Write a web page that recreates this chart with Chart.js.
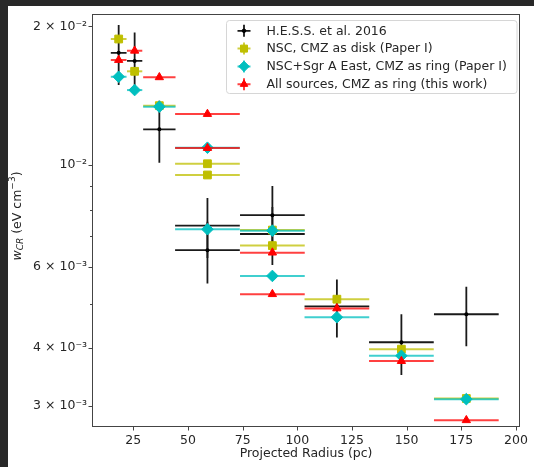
<!DOCTYPE html>
<html><head><meta charset="utf-8">
<script src="https://cdn.jsdelivr.net/npm/chart.js@4/dist/chart.umd.min.js"></script>
<style>html,body{margin:0;padding:0;background:#fff;}#wrap{width:534px;height:467px;position:relative;}canvas{display:block;}</style>
</head><body><div id="wrap"><canvas id="c" width="534" height="467"></canvas></div>
<script>
// ---- data ----
const radius    = [18.3, 25.6, 36.9, 58.9, 58.9, 88.6, 88.6, 118.1, 147.6, 177.3];
const radiusErr = [3.6, 3.5, 7.4, 14.8, 14.8, 14.8, 14.8, 14.8, 14.8, 14.8];
const hess      = [1.752e-2, 1.682e-2, 1.195e-2, 7.38e-3, 6.53e-3, 7.78e-3, 7.08e-3, 4.93e-3, 4.12e-3, 4.74e-3];
const hessErr   = [2.6e-3, 2.56e-3, 1.84e-3, 1.1e-3, 1.0e-3, 1.22e-3, 1.02e-3, 7.1e-4, 6.2e-4, 7.0e-4];
const nscDisk   = [1.877e-2, 1.597e-2, 1.345e-2, 1.006e-2, 9.51e-3, 7.22e-3, 6.68e-3, 5.11e-3, 3.98e-3, 3.11e-3];
const nscRing   = [1.554e-2, 1.454e-2, 1.338e-2, 1.09e-2, 7.25e-3, 7.20e-3, 5.74e-3, 4.67e-3, 3.85e-3, 3.10e-3];
const allRing   = [1.69e-2, 1.77e-2, 1.55e-2, 1.29e-2, 1.088e-2, 6.45e-3, 5.24e-3, 4.88e-3, 3.75e-3, 2.79e-3];
const seriesLabels = [
  'H.E.S.S. et al. 2016',
  'NSC, CMZ as disk (Paper I)',
  'NSC+Sgr A East, CMZ as ring (Paper I)',
  'All sources, CMZ as ring (this work)'
];
const xTicks = [25, 50, 75, 100, 125, 150, 175, 200];
const yTicks = [3e-3, 4e-3, 5e-3, 6e-3, 7e-3, 8e-3, 9e-3, 1e-2, 2e-2];
const yTickLabels = ['3 × 10⁻³', '4 × 10⁻³', '', '6 × 10⁻³', '', '', '', '10⁻²', '2 × 10⁻²'];
const xTitle = 'Projected Radius (pc)';

// ---- build points ----
function pts(vals, yErr) {
  return vals.map((v, i) => ({x: radius[i], y: v, xErr: radiusErr[i], yErr: yErr ? yErr[i] : 0}));
}

Chart.defaults.font.family = "'DejaVu Sans', sans-serif";
Chart.defaults.font.size = 12.5;
Chart.defaults.color = '#262626';

const errorBars = {
  id: 'errorBars',
  beforeDatasetDraw(chart, args) {
    const ds = chart.data.datasets[args.index];
    const xs = chart.scales.x, ys = chart.scales.y, ctx = chart.ctx, a = chart.chartArea;
    ctx.save();
    ctx.beginPath();
    ctx.rect(a.left, a.top, a.right - a.left, a.bottom - a.top);
    ctx.clip();
    ctx.strokeStyle = ds.errColor;
    ctx.lineWidth = ds.errWidth;
    ds.data.forEach(p => {
      const px = xs.getPixelForValue(p.x), py = ys.getPixelForValue(p.y);
      ctx.beginPath();
      if (p.xErr) {
        ctx.moveTo(xs.getPixelForValue(p.x - p.xErr), py);
        ctx.lineTo(xs.getPixelForValue(p.x + p.xErr), py);
      }
      if (p.yErr) {
        ctx.moveTo(px, ys.getPixelForValue(p.y + p.yErr));
        ctx.lineTo(px, ys.getPixelForValue(p.y - p.yErr));
      }
      ctx.stroke();
    });
    ctx.restore();
  }
};

const decor = {
  id: 'decor',
  afterDatasetsDraw(chart) {
    const ctx = chart.ctx, a = chart.chartArea, xs = chart.scales.x, ys = chart.scales.y;
    ctx.save();
    // spines
    ctx.strokeStyle = '#444';
    ctx.lineWidth = 1;
    const L = Math.round(a.left) + 0.5, R = Math.round(a.right) - 0.5;
    const T = Math.round(a.top) + 0.5, B = Math.round(a.bottom) - 0.5;
    ctx.strokeRect(L, T, R - L, B - T);
    // ticks
    ctx.beginPath();
    xTicks.forEach(v => {
      const px = Math.round(xs.getPixelForValue(v)) + 0.5;
      ctx.moveTo(px, B); ctx.lineTo(px, B + 4);
    });
    yTicks.forEach((v, i) => {
      const py = Math.round(ys.getPixelForValue(v)) + 0.5;
      const len = yTickLabels[i] ? 4 : 2.5;
      ctx.moveTo(L, py); ctx.lineTo(L - len, py);
    });
    ctx.stroke();

    // legend
    const lx = 226.5, ly = 20.5, lw = 290.5, lh = 73;
    ctx.beginPath();
    ctx.roundRect(lx, ly, lw, lh, 3);
    ctx.fillStyle = 'rgba(255,255,255,0.85)';
    ctx.fill();
    ctx.strokeStyle = '#d6d6d6';
    ctx.stroke();
    chart.data.datasets.forEach((ds, i) => {
      const cy = 30.8 + i * 17.8, cx = 244;
      ctx.strokeStyle = ds.errColor;
      ctx.lineWidth = ds.errWidth;
      ctx.beginPath();
      ctx.moveTo(cx - 6.5, cy); ctx.lineTo(cx + 6.5, cy);
      ctx.moveTo(cx, cy - 6); ctx.lineTo(cx, cy + 6);
      ctx.stroke();
      ctx.fillStyle = ds.backgroundColor;
      ctx.strokeStyle = ds.borderColor;
      ctx.lineWidth = 1;
      Chart.helpers.drawPoint(ctx, {pointStyle: ds.pointStyle, radius: ds.pointRadius * 0.9, rotation: 0, borderWidth: 1}, cx, cy);
      ctx.fillStyle = '#262626';
      ctx.font = "12.5px 'DejaVu Sans'";
      ctx.textAlign = 'left';
      ctx.textBaseline = 'middle';
      ctx.fillText(ds.label, 266.5, cy + 0.5);
    });
    ctx.restore();
  },
  afterDraw(chart) {
    const ctx = chart.ctx;
    ctx.save();
    // y-axis title: w_CR (eV cm^-3)
    ctx.translate(18, 216);
    ctx.rotate(-Math.PI / 2);
    ctx.fillStyle = '#262626';
    ctx.textBaseline = 'middle';
    ctx.textAlign = 'left';
    const parts = [
      {t: 'w', f: "italic 12.5px 'DejaVu Sans'", dy: 0},
      {t: 'CR', f: "italic 9px 'DejaVu Sans'", dy: 3},
      {t: ' (eV cm', f: "12.5px 'DejaVu Sans'", dy: 0},
      {t: '−3', f: "9px 'DejaVu Sans'", dy: -5},
      {t: ')', f: "12.5px 'DejaVu Sans'", dy: 0}
    ];
    let w = 0;
    parts.forEach(p => { ctx.font = p.f; p.w = ctx.measureText(p.t).width; w += p.w; });
    let x = -w / 2;
    parts.forEach(p => { ctx.font = p.f; ctx.fillText(p.t, x, p.dy); x += p.w; });
    ctx.restore();
    // dark frame strips of the screenshot
    ctx.save();
    ctx.fillStyle = '#282828';
    ctx.fillRect(0, 0, 534, 6);
    ctx.fillRect(0, 0, 8, 467);
    ctx.restore();
  }
};

const lineCol = {
  k: '#1a1a1a',
  y: 'rgba(191,191,0,0.75)',
  c: 'rgba(0,191,191,0.75)',
  r: 'rgba(255,0,0,0.75)'
};

new Chart(document.getElementById('c'), {
  type: 'scatter',
  data: {
    datasets: [
      {label: seriesLabels[0], data: pts(hess, hessErr), pointStyle: 'circle', pointRadius: 2,
       backgroundColor: '#000', borderColor: '#000', borderWidth: 0, errColor: lineCol.k, errWidth: 1.8, order: 3},
      {label: seriesLabels[1], data: pts(nscDisk), pointStyle: 'rect', pointRadius: 5.5,
       backgroundColor: '#bfbf00', borderColor: '#bfbf00', borderWidth: 1, errColor: lineCol.y, errWidth: 2, order: 2},
      {label: seriesLabels[2], data: pts(nscRing), pointStyle: 'rectRot', pointRadius: 5.8,
       backgroundColor: '#00bfbf', borderColor: '#00bfbf', borderWidth: 1, errColor: lineCol.c, errWidth: 2, order: 1},
      {label: seriesLabels[3], data: pts(allRing), pointStyle: 'triangle', pointRadius: 4.8,
       backgroundColor: '#ff0000', borderColor: '#ff0000', borderWidth: 1, errColor: lineCol.r, errWidth: 2, order: 0}
    ]
  },
  options: {
    responsive: false,
    animation: false,
    devicePixelRatio: 1,
    layout: {padding: {left: 0, right: 11, top: 14, bottom: 0}},
    plugins: {legend: {display: false}, tooltip: {enabled: false}},
    elements: {point: {hoverRadius: 0}},
    scales: {
      x: {
        type: 'linear', min: 6.1, max: 201.9, bounds: 'data',
        grid: {display: false, drawTicks: false, tickLength: 0}, border: {display: false},
        afterBuildTicks: s => { s.ticks = xTicks.map(v => ({value: v})); },
        afterFit: s => { s.height = 40; },
        ticks: {padding: 6, maxRotation: 0, autoSkip: false, callback: v => String(v)},
        title: {display: true, text: xTitle, padding: {top: 0, bottom: 5.5}, font: {size: 12.5}}
      },
      y: {
        type: 'logarithmic', min: 2.697e-3, max: 2.127e-2, bounds: 'data',
        grid: {display: false, drawTicks: false, tickLength: 0}, border: {display: false},
        afterBuildTicks: s => { s.ticks = yTicks.map(v => ({value: v})); },
        afterFit: s => { s.width = 92; },
        ticks: {padding: 5, autoSkip: false,
          callback: (v) => { const i = yTicks.findIndex(t => Math.abs(t - v) / t < 1e-6); return i >= 0 ? yTickLabels[i] : ''; }}
      }
    }
  },
  plugins: [errorBars, decor]
});
</script>
</body></html>
